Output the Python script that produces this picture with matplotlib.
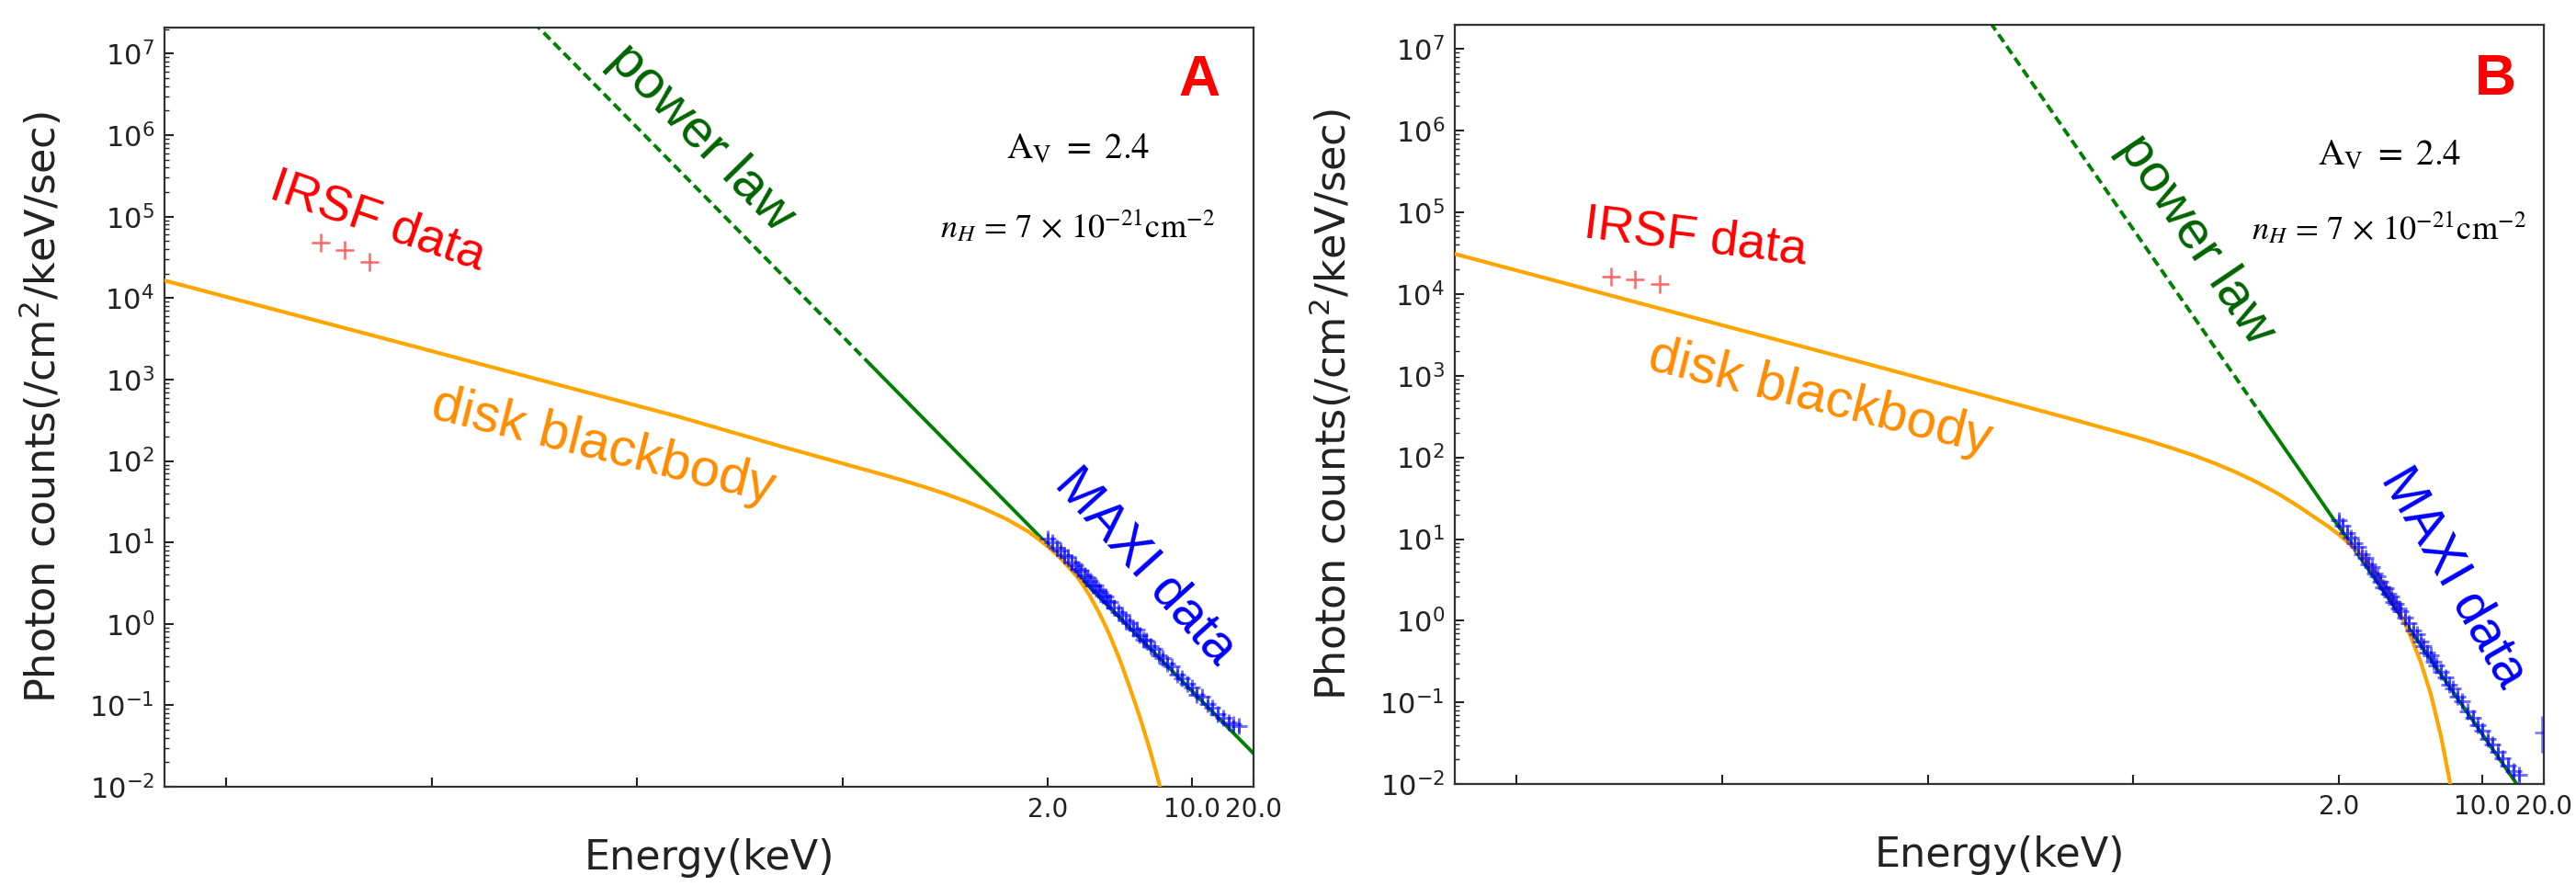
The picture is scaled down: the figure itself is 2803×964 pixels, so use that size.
import matplotlib

matplotlib.use("Agg")
import matplotlib.pyplot as plt
import numpy as np
from matplotlib.ticker import LogLocator, NullLocator, FixedLocator, FixedFormatter

# ---- data ---------------------------------------------------------------
# IRSF near-IR photometry (Ks, H, J) in keV
irsf_energy = [5.77e-4, 7.51e-4, 9.92e-4]
irsf_counts_a = [4.8e4, 3.9e4, 2.8e4]
irsf_counts_b = [1.62e4, 1.51e4, 1.32e4]

# disk blackbody model curve (log10 E [keV], log10 counts)
disk_logE_a = [-4, -3, -2, -1.5, -1, -0.8, -0.7, -0.6, -0.5, -0.4, -0.3, -0.2,
               -0.1, 0, 0.1, 0.2, 0.25, 0.3, 0.35, 0.4, 0.45, 0.5, 0.55, 0.6,
               0.65, 0.7, 0.75, 0.8, 0.85, 0.9]
disk_logN_a = [4.215, 3.55, 2.88, 2.545, 2.18, 2.04, 1.97, 1.90, 1.83, 1.757,
               1.68, 1.597, 1.505, 1.402, 1.285, 1.14, 1.05, 0.95, 0.835, 0.70,
               0.555, 0.364, 0.134, -0.13, -0.44, -0.79, -1.16, -1.575, -2.035, -2.535]
disk_logE_b = [-4, -3, -2, -1.5, -1, -0.8, -0.7, -0.6, -0.5, -0.4, -0.3, -0.2,
               -0.1, 0, 0.1, 0.2, 0.25, 0.3, 0.35, 0.4, 0.45, 0.5, 0.55, 0.6,
               0.65, 0.7, 0.75, 0.8, 0.85, 0.9]
disk_logN_b = [4.49, 3.82, 3.15, 2.81, 2.47, 2.33, 2.26, 2.185, 2.105, 2.02,
               1.925, 1.82, 1.70, 1.565, 1.41, 1.24, 1.155, 1.06, 0.95, 0.83,
               0.69, 0.53, 0.34, 0.10, -0.18, -0.5, -0.9, -1.42, -2.07, -2.8]

# power law: start, dashed->solid break, end
pl_energy_a = [0.005, 0.276, 20.0]
pl_counts_a = [4.3e7, 1.48e3, 2.57e-2]
pl_energy_b = [0.03, 0.86, 20.0]
pl_counts_b = [6.2e7, 308.0, 3.3e-3]

# MAXI/GSC spectrum
maxi_energy_a = [2.0, 2.1, 2.2, 2.3, 2.4, 2.5, 2.6, 2.7, 2.8, 2.9, 3.0, 3.1, 3.2,
                 3.3, 3.4, 3.5, 3.6, 3.7, 3.8, 3.9, 4.0, 4.2, 4.4, 4.6, 4.8, 5.0,
                 5.2, 5.4, 5.6, 5.8, 6.0, 6.3, 6.6, 6.9, 7.2, 7.6, 8.0, 8.5, 9.0,
                 9.5, 10.0, 10.6, 11.2, 11.9, 12.6, 13.4, 14.2, 15.1, 16.0, 17.0]
maxi_counts_a = [11.2, 10.1, 8.6, 8.0, 7.0, 6.6, 5.6, 5.3, 4.7, 4.5, 3.9, 3.7, 3.4,
                 2.97, 2.95, 2.61, 2.49, 2.22, 2.17, 1.89, 1.86, 1.60, 1.39, 1.30,
                 1.09, 1.03, 0.865, 0.84, 0.73, 0.64, 0.63, 0.53, 0.49, 0.41, 0.385,
                 0.327, 0.30, 0.24, 0.217, 0.185, 0.166, 0.136, 0.127, 0.104, 0.094,
                 0.077, 0.071, 0.062, 0.058, 0.055]
maxi_energy_b = [2.0, 2.1, 2.2, 2.3, 2.4, 2.5, 2.6, 2.7, 2.8, 2.9, 3.0, 3.1, 3.2,
                 3.3, 3.4, 3.5, 3.6, 3.7, 3.8, 3.9, 4.0, 4.2, 4.4, 4.6, 4.8, 5.0,
                 5.2, 5.4, 5.6, 5.8, 6.0, 6.3, 6.6, 6.9, 7.2, 7.6, 8.0, 8.5, 9.0,
                 9.5, 10.0, 10.6, 11.2, 11.9, 12.6, 13.4, 14.2, 15.1]
maxi_counts_b = [17.1, 14.7, 11.9, 10.5, 8.85, 7.96, 6.44, 5.90, 4.93, 4.55, 3.75,
                 3.49, 3.03, 2.58, 2.49, 2.14, 1.98, 1.71, 1.62, 1.41, 1.32, 1.08,
                 0.93, 0.75, 0.68, 0.557, 0.494, 0.413, 0.378, 0.318, 0.287, 0.235,
                 0.202, 0.164, 0.148, 0.118, 0.103, 0.077, 0.0656, 0.0525, 0.0447,
                 0.0354, 0.0303, 0.0247, 0.0207, 0.0169, 0.0144, 0.0129]
maxi_rel_err = 0.15
# single high-energy bin in panel B
maxi_out_energy_b = [19.5]
maxi_out_counts_b = [0.043]
maxi_out_xerr_b = [1.5]
maxi_out_yerr_b = [[0.019], [0.026]]

x_ticks = [2e-4, 2e-3, 2e-2, 0.2, 2.0, 10.0, 20.0]
x_tick_labels = ["", "", "", "", "2.0", "10.0", "20.0"]

ANNOT_FONT = ["Liberation Sans", "DejaVu Sans"]


def draw_panel(ax, letter, irsf_counts, disk_logE, disk_logN, pl_energy, pl_counts,
               maxi_energy, maxi_counts, ymax, text_pos):
    ax.set_xscale("log")
    ax.set_yscale("log")

    ax.plot(pl_energy[:2], pl_counts[:2], color="green", lw=2.8,
            ls=(0, (2.6, 1.4)), zorder=2)
    ax.plot(pl_energy[1:], pl_counts[1:], color="green", lw=2.8, zorder=2)

    ax.plot(10 ** np.asarray(disk_logE), 10 ** np.asarray(disk_logN),
            color="orange", lw=3.0, zorder=3)

    ax.plot(irsf_energy, irsf_counts, ls="none", marker="+", ms=14, mew=1.8,
            color="red", alpha=0.6, zorder=4)

    maxi_counts = np.asarray(maxi_counts)
    ax.errorbar(maxi_energy, maxi_counts, yerr=maxi_rel_err * maxi_counts,
                fmt="+", ms=13, mew=2.2, elinewidth=2.0, capsize=0,
                color="blue", alpha=0.55, zorder=5)

    ax.set_xlim(1e-4, 20)
    ax.set_ylim(1e-2, ymax)

    ax.xaxis.set_major_locator(FixedLocator(x_ticks))
    ax.xaxis.set_major_formatter(FixedFormatter(x_tick_labels))
    ax.xaxis.set_minor_locator(NullLocator())
    ax.yaxis.set_major_locator(LogLocator(base=10, numticks=20))
    ax.yaxis.set_minor_locator(LogLocator(base=10, subs=np.arange(2, 10), numticks=20))

    ax.tick_params(which="both", direction="in", colors="#222222",
                   pad=8, top=False, right=False)
    ax.tick_params(axis="y", labelsize=22)
    ax.tick_params(axis="x", labelsize=20)
    ax.tick_params(which="major", length=7, width=1.5)
    ax.tick_params(which="minor", length=3.5, width=1.0)
    for spine in ax.spines.values():
        spine.set_color("#333333")
        spine.set_linewidth(1.6)

    ax.set_xlabel("Energy(keV)", fontsize=32, color="#222222", labelpad=12)
    ax.set_ylabel("Photon counts(/cm$^2$/keV/sec)", fontsize=32, color="#222222",
                  labelpad=20)

    # annotations
    ax.text(*text_pos["letter"], letter, transform=ax.transAxes, color="red",
            fontsize=45, fontweight="bold", family=ANNOT_FONT, ha="center", va="center")
    ax.text(*text_pos["av"], r"$\mathrm{A_V}\ =\ 2.4$", transform=ax.transAxes,
            fontsize=28, math_fontfamily="stix", ha="center", va="center")
    ax.text(*text_pos["nh"], r"$n_H\,=\,7\,\times\,10^{-21}\mathrm{cm}^{-2}$",
            transform=ax.transAxes, fontsize=26, math_fontfamily="stix",
            ha="center", va="center")
    labels = [
        ("irsf", "IRSF data", "red", 39),
        ("disk", "disk blackbody", "darkorange", 42),
        ("pl", "power law", "darkgreen", 42),
        ("maxi", "MAXI data", "blue", 41),
    ]
    for key, label, color, size in labels:
        x, y, rot = text_pos[key]
        ax.text(x, y, label, transform=ax.transAxes, color=color, fontsize=size,
                family=ANNOT_FONT, rotation=rot, rotation_mode="anchor",
                ha="center", va="center")


fig = plt.figure(figsize=(28.03, 9.64), dpi=100)
ax_a = fig.add_axes([0.0639, 0.112, 0.4227, 0.857])
ax_b = fig.add_axes([0.5648, 0.115, 0.4228, 0.8575])

pos_a = {
    "letter": (0.950, 0.930), "av": (0.839, 0.840), "nh": (0.838, 0.739),
    "irsf": (0.196, 0.745, -19), "disk": (0.4025, 0.448, -14),
    "pl": (0.493, 0.855, -45.5), "maxi": (0.901, 0.290, -48),
}
pos_b = {
    "letter": (0.955, 0.927), "av": (0.858, 0.828), "nh": (0.858, 0.733),
    "irsf": (0.221, 0.719, -7), "disk": (0.335, 0.508, -14),
    "pl": (0.681, 0.717, -56), "maxi": (0.917, 0.272, -60),
}

draw_panel(ax_a, "A", irsf_counts_a, disk_logE_a, disk_logN_a, pl_energy_a,
           pl_counts_a, maxi_energy_a, maxi_counts_a, 2.1e7, pos_a)
draw_panel(ax_b, "B", irsf_counts_b, disk_logE_b, disk_logN_b, pl_energy_b,
           pl_counts_b, maxi_energy_b, maxi_counts_b, 2.0e7, pos_b)
ax_b.errorbar(maxi_out_energy_b, maxi_out_counts_b, xerr=maxi_out_xerr_b,
              yerr=maxi_out_yerr_b, fmt="none", elinewidth=2, capsize=0,
              color="blue", alpha=0.5, zorder=5)

fig.savefig("out.png", dpi=100)
plt.close(fig)
